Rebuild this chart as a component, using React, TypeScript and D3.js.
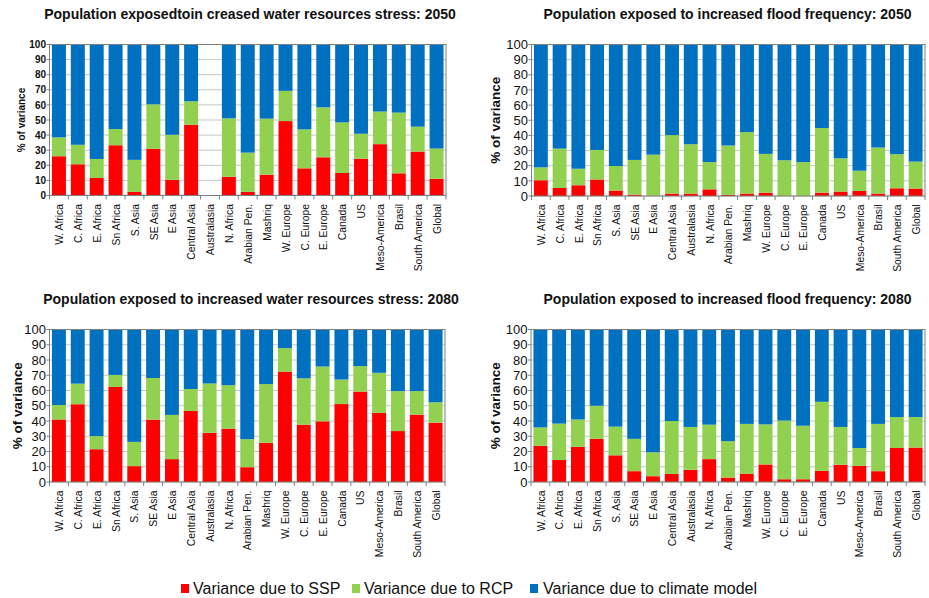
import React from "react";
import * as d3 from "d3";

const categories = ["W. Africa","C. Africa","E. Africa","Sn Africa","S. Asia","SE Asia","E Asia","Central Asia","Australasia","N. Africa","Arabian Pen.","Mashriq","W. Europe","C. Europe","E. Europe","Canada","US","Meso-America","Brasil","South America","Global"];

const seriesNames = ["Variance due to SSP", "Variance due to RCP", "Variance due to climate model"];
const yTicks = [0, 10, 20, 30, 40, 50, 60, 70, 80, 90, 100];

// Panel 1: water resources stress 2050
const water2050SSP = [26, 20.7, 11.6, 33.3, 2.4, 30.9, 10.4, 46.9, 0, 12.4, 2.4, 13.8, 49.3, 18, 25.3, 14.9, 24.4, 34, 14.7, 29.1, 11.1];
const water2050RCP = [12.5, 12.9, 12.6, 10.7, 21.2, 29.5, 29.8, 15.5, 0, 38.7, 26, 37.1, 20, 25.8, 33.1, 33.5, 16.5, 21.6, 40.2, 16.5, 20];
const water2050GCM = [61.5, 66.4, 75.8, 56, 76.4, 39.6, 59.8, 37.6, 0, 48.9, 71.6, 49.1, 30.7, 56.2, 41.6, 51.6, 59.1, 44.4, 45.1, 54.4, 68.9];

// Panel 2: flood frequency 2050
const flood2050SSP = [10.4, 5.3, 7.1, 10.9, 3.6, 0.9, 0.2, 1.6, 1.6, 4.4, 0.7, 1.6, 2.2, 0, 0, 2.2, 2.9, 3.3, 1.6, 5.1, 4.9];
const flood2050RCP = [8.5, 26, 10.9, 19.5, 16.2, 22.9, 27.1, 38.6, 32.6, 18, 32.6, 40.6, 25.6, 23.6, 22.4, 42.7, 22, 13.4, 30.4, 22.5, 17.8];
const flood2050GCM = [81.1, 68.7, 82, 69.6, 80.2, 76.2, 72.7, 59.8, 65.8, 77.6, 66.7, 57.8, 72.2, 76.4, 77.6, 55.1, 75.1, 83.3, 68, 72.4, 77.3];

// Panel 3: water resources stress 2080
const water2080SSP = [41, 51, 21.5, 62.3, 10.4, 40.9, 15, 46.6, 32.3, 35, 9.7, 25.7, 72.4, 37.6, 39.8, 51.1, 59.3, 45.3, 33.4, 44.2, 38.9];
const water2080RCP = [9.5, 13.5, 8.6, 7.9, 15.9, 27.3, 29, 14.4, 32.3, 28.5, 18.4, 38.5, 15.4, 30.4, 35.9, 16.1, 16.7, 26.3, 26.2, 15.4, 13.4];
const water2080GCM = [49.5, 35.5, 69.9, 29.8, 73.7, 31.8, 56, 39, 35.4, 36.5, 71.9, 35.8, 12.2, 32, 24.3, 32.8, 24, 28.4, 40.4, 40.4, 47.7];

// Panel 4: flood frequency 2080
const flood2080SSP = [23.7, 14.4, 23, 28.3, 17.5, 7.1, 3.8, 5.3, 8, 15, 2.9, 5.3, 11.5, 1.8, 1.8, 7.3, 11.3, 10.6, 7.1, 22.3, 22.6];
const flood2080RCP = [12.1, 23.9, 18, 21.7, 18.8, 21.2, 15.7, 34.7, 28.1, 22.6, 23.9, 32.8, 26.3, 38.5, 35.1, 45.3, 24.8, 11.7, 31, 20.3, 20];
const flood2080GCM = [64.2, 61.7, 59, 50, 63.7, 71.7, 80.5, 60, 63.9, 62.4, 73.2, 61.9, 62.2, 59.7, 63.1, 47.4, 63.9, 77.7, 61.9, 57.4, 57.4];

const titles = [
  "Population exposedtoin creased water resources stress: 2050",
  "Population exposed to increased flood frequency: 2050",
  "Population exposed to increased water resources stress: 2080",
  "Population exposed to increased flood frequency: 2080",
];

const COLORS = ["#FF0000", "#92D050", "#0070C0"];
const FONT = "'Liberation Sans', Arial, Helvetica, sans-serif";

const panelData = [
  [water2050SSP, water2050RCP, water2050GCM],
  [flood2050SSP, flood2050RCP, flood2050GCM],
  [water2080SSP, water2080RCP, water2080GCM],
  [flood2080SSP, flood2080RCP, flood2080GCM],
];

const layouts = [
  { x0: 49.5, x1: 446, y0: 44.5, y1: 195.5, tickSize: 10, tickWeight: "bold", ylabSize: 10, ylabX: 25, titleX: 250, titleY: 19 },
  { x0: 531.5, x1: 925, y0: 44.5, y1: 196, tickSize: 13, tickWeight: "normal", ylabSize: 13.5, ylabX: 500, titleX: 727.5, titleY: 19 },
  { x0: 49.5, x1: 445, y0: 329.5, y1: 482, tickSize: 13, tickWeight: "normal", ylabSize: 13.5, ylabX: 22, titleX: 251, titleY: 304 },
  { x0: 531, x1: 925, y0: 329.5, y1: 482, tickSize: 13, tickWeight: "normal", ylabSize: 13.5, ylabX: 500, titleX: 727.5, titleY: 304 },
];

function Panel({ idx }: { idx: number }) {
  const L = layouts[idx];
  const [a, b, c] = panelData[idx];
  const rows = categories.map((cat, i) => ({ cat, s0: a[i], s1: b[i], s2: c[i] }));
  const stack = d3.stack<any>().keys(["s0", "s1", "s2"]);
  const series = stack(rows);
  const x = d3.scaleBand<string>().domain(categories).range([L.x0, L.x1]).paddingInner(0.26).paddingOuter(0.13);
  const y = d3.scaleLinear().domain([0, 100]).range([L.y1, L.y0]);
  const boundaries = d3.range(categories.length + 1).map((i) => L.x0 + (L.x1 - L.x0) * i / categories.length);
  return (
    <g>
      <text x={L.titleX} y={L.titleY} textAnchor="middle" fontFamily={FONT} fontWeight="bold" fontSize={14} fill="#111">{titles[idx]}</text>
      {yTicks.map((t) => (
        <line key={"g" + t} x1={L.x0} x2={L.x1} y1={y(t)} y2={y(t)} stroke="#c6c6c6" strokeWidth={1} />
      ))}
      {series.map((s, si) => (
        <g key={si} fill={COLORS[si]}>
          {s.map((d, i) => {
            const h = y(d[0]) - y(d[1]);
            if (h <= 0) return null;
            return <rect key={i} x={x(categories[i])} y={y(d[1])} width={x.bandwidth()} height={h} />;
          })}
        </g>
      ))}
      <rect x={L.x0} y={L.y0} width={L.x1 - L.x0} height={L.y1 - L.y0} fill="none" stroke="#7f7f7f" strokeWidth={1} />
      {yTicks.map((t) => (
        <g key={"t" + t}>
          <line x1={L.x0 - 3} x2={L.x0} y1={y(t)} y2={y(t)} stroke="#7f7f7f" />
          <text x={L.x0 - 3.5} y={y(t)} dy="0.36em" textAnchor="end" fontFamily={FONT} fontSize={L.tickSize} fontWeight={L.tickWeight} fill="#111">{t}</text>
        </g>
      ))}
      {boundaries.map((bx, i) => (
        <line key={"b" + i} x1={bx} x2={bx} y1={L.y1} y2={L.y1 + 4} stroke="#7f7f7f" />
      ))}
      {categories.map((cat) => {
        const cx = (x(cat) as number) + x.bandwidth() / 2;
        return (
          <text key={cat} transform={`translate(${cx},${L.y1 + 8.5}) rotate(-90) scale(0.9,1)`} dy="0.36em" textAnchor="end" fontFamily={FONT} fontSize={11.5} fill="#111">{cat}</text>
        );
      })}
      <text transform={`translate(${L.ylabX},${(L.y0 + L.y1) / 2}) rotate(-90)`} textAnchor="middle" fontFamily={FONT} fontWeight="bold" fontSize={L.ylabSize} fill="#111">% of variance</text>
    </g>
  );
}

const legendPos = [
  { sq: 181, tx: 193 },
  { sq: 352, tx: 364 },
  { sq: 530, tx: 543 },
];

export default function App() {
  return (
    <svg width={929} height={598} style={{ position: "absolute", left: 0, top: 0, background: "#fff" }}>
      <rect width={929} height={598} fill="#fff" />
      {[0, 1, 2, 3].map((i) => <Panel key={i} idx={i} />)}
      {seriesNames.map((n, i) => (
        <g key={n}>
          <rect x={legendPos[i].sq} y={584} width={8} height={9} fill={COLORS[i]} />
          <text x={legendPos[i].tx} y={594} fontFamily={FONT} fontSize={16} fill="#111">{n}</text>
        </g>
      ))}
    </svg>
  );
}
